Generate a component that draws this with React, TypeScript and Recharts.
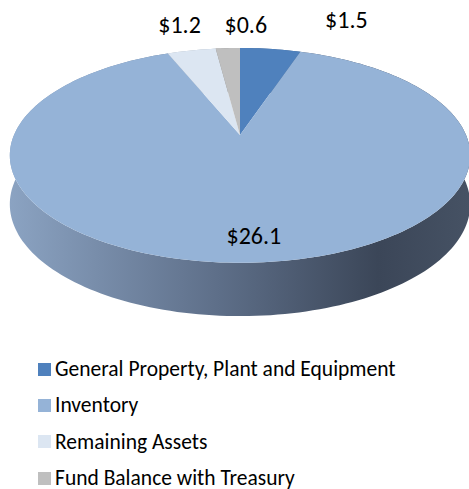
import React from 'react';
import { PieChart, Pie, Cell, Legend } from 'recharts';

const categories = [
  'General Property, Plant and Equipment',
  'Inventory',
  'Remaining Assets',
  'Fund Balance with Treasury',
];
const values = [1.5, 26.1, 1.2, 0.6];
const valueLabels = ['$1.5', '$26.1', '$1.2', '$0.6'];
const sliceColors = ['#4f81bd', '#95b3d7', '#dce6f2', '#bfbfbf'];
const sideColors = ['#3c6291', '#6d88ab', '#a9b3bf', '#8c8c8c'];

const data = categories.map((name, i) => ({ name, value: values[i], label: valueLabels[i] }));

const W = 469;
const H = 489;
const CX = 240;
const CY = 135;
const R = 226;
const RY_RATIO = 0.458;
const P = 0.19;
const DEPTH = 48;
const FONT = 'Carlito, Calibri, Lato, sans-serif';
const LABEL_RADIUS = [1.1, 0.8, 1.1, 1.1];
const LABEL_NUDGE = [
  { dx: 73.5, dy: -13.6 },
  { dx: 7, dy: 11.5 },
  { dx: -8, dy: -10 },
  { dx: 19, dy: -8 },
];

const toTheta = (a: number) => 90 - a;

function project(cx: number, cy: number, r: number, u: number, theta: number) {
  const t = (theta * Math.PI) / 180;
  const s = Math.sin(t) * u;
  const c = Math.cos(t) * u;
  const d = 1 + P * c;
  return { x: cx + (r * s) / d, y: cy - (r * RY_RATIO * c) / d, d };
}

function arcPoints(cx: number, cy: number, r: number, t1: number, t2: number) {
  const n = Math.max(2, Math.ceil(Math.abs(t2 - t1) / 1.5));
  const pts: { x: number; y: number; d: number }[] = [];
  for (let i = 0; i <= n; i++) {
    const t = t1 + ((t2 - t1) * i) / n;
    pts.push(project(cx, cy, r, 1, t));
  }
  return pts;
}

function TopShape(props: any) {
  const { cx, cy, outerRadius, startAngle, endAngle, fill } = props;
  const pts = arcPoints(cx, cy, outerRadius, toTheta(startAngle), toTheta(endAngle));
  let d = `M${cx},${cy}`;
  pts.forEach((p) => {
    d += `L${p.x.toFixed(2)},${p.y.toFixed(2)}`;
  });
  d += 'Z';
  return <path d={d} fill={fill} stroke="none" />;
}

function SideShape(props: any) {
  const { cx, cy, outerRadius, startAngle, endAngle, fill } = props;
  const pts = arcPoints(cx, cy, outerRadius, toTheta(startAngle), toTheta(endAngle));
  let d = '';
  pts.forEach((p, i) => {
    d += `${i === 0 ? 'M' : 'L'}${p.x.toFixed(2)},${p.y.toFixed(2)}`;
  });
  for (let i = pts.length - 1; i >= 0; i--) {
    const p = pts[i];
    d += `L${p.x.toFixed(2)},${(p.y + DEPTH / Math.sqrt(p.d)).toFixed(2)}`;
  }
  d += 'Z';
  return <path d={d} fill={fill} stroke="none" />;
}

function renderLabel(props: any) {
  const { cx, cy, midAngle, outerRadius, index } = props;
  const p = project(cx, cy, outerRadius, LABEL_RADIUS[index], 90 - midAngle);
  const n = LABEL_NUDGE[index];
  return (
    <text
      x={p.x + n.dx}
      y={p.y + n.dy}
      textAnchor="middle"
      fill="#000"
      fontFamily={FONT}
      fontSize={24}
    >
      {valueLabels[index]}
    </text>
  );
}

function LegendContent() {
  return (
    <div style={{ fontFamily: FONT, fontSize: 21.5, color: '#000' }}>
      {categories.map((name, i) => (
        <div key={name} style={{ display: 'flex', alignItems: 'center', height: 36.3 }}>
          <span
            style={{
              display: 'inline-block',
              width: 13,
              height: 13,
              background: sliceColors[i],
              marginRight: 4,
            }}
          />
          <span style={{ whiteSpace: 'nowrap' }}>{name}</span>
        </div>
      ))}
    </div>
  );
}

export default function App() {
  return (
    <div
      style={{
        position: 'absolute',
        left: 0,
        top: 0,
        width: W,
        height: H,
        background: '#fff',
        overflow: 'hidden',
      }}
    >
      <PieChart width={W} height={H} margin={{ top: 0, right: 0, bottom: 0, left: 0 }}>
        <defs>
          <linearGradient id="sideGrad" x1={10} y1={0} x2={470} y2={0} gradientUnits="userSpaceOnUse">
            <stop offset="0%" stopColor="#8ba3c2" />
            <stop offset="45%" stopColor="#5e6f89" />
            <stop offset="80%" stopColor="#3b4658" />
            <stop offset="100%" stopColor="#465264" />
          </linearGradient>
        </defs>
        <Pie
          data={data}
          dataKey="value"
          nameKey="name"
          cx={CX}
          cy={CY}
          outerRadius={R}
          startAngle={90}
          endAngle={-270}
          stroke="none"
          legendType="none"
          isAnimationActive={false}
          shape={SideShape as any}
        >
          {data.map((d, i) => (
            <Cell key={d.name} fill={i === 1 ? 'url(#sideGrad)' : sideColors[i]} />
          ))}
        </Pie>
        <Pie
          data={data}
          dataKey="value"
          nameKey="name"
          cx={CX}
          cy={CY}
          outerRadius={R}
          startAngle={90}
          endAngle={-270}
          stroke="none"
          isAnimationActive={false}
          shape={TopShape as any}
          label={renderLabel}
          labelLine={false}
        >
          {data.map((d, i) => (
            <Cell key={d.name} fill={sliceColors[i]} />
          ))}
        </Pie>
        <Legend
          content={LegendContent}
          wrapperStyle={{ left: 38, top: 351, width: 430 }}
        />
      </PieChart>
    </div>
  );
}
